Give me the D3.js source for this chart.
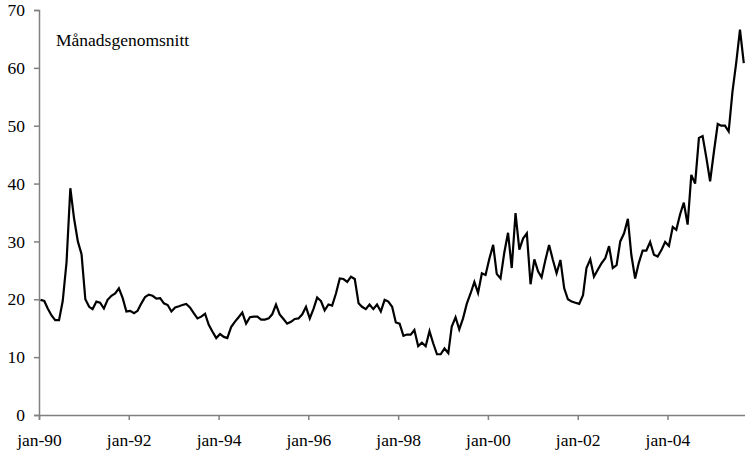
<!DOCTYPE html>
<html>
<head>
<meta charset="utf-8">
<script src="https://cdn.jsdelivr.net/npm/d3@7"></script>
<style>
  body { margin: 0; background: #fff; }
</style>
</head>
<body>
<svg id="chart" width="745" height="454"></svg>
<script>
// monthly averages, jan-90 .. sep-05
const startYear = 1990;
const prices = [
    19.9, 19.7, 18.4, 17.2, 16.4, 16.4, 19.7, 26.4, 39.2, 34.0, 30.0, 27.8,
    20.0, 18.7, 18.3, 19.6, 19.4, 18.4, 19.9, 20.6, 21.0, 21.9, 20.2, 17.9,
    18.0, 17.6, 18.0, 19.3, 20.4, 20.8, 20.6, 20.1, 20.2, 19.3, 19.0, 17.9,
    18.6, 18.8, 19.0, 19.2, 18.6, 17.6, 16.7, 17.0, 17.5, 15.6, 14.4, 13.3,
    14.0, 13.5, 13.3, 15.2, 16.1, 16.9, 17.7, 15.8, 16.9, 17.0, 17.0, 16.5,
    16.5, 16.7, 17.4, 19.1, 17.4, 16.6, 15.8, 16.1, 16.6, 16.7, 17.4, 18.7,
    16.7, 18.4, 20.3, 19.7, 18.1, 19.1, 18.9, 21.0, 23.6, 23.5, 23.0, 23.9,
    23.5, 19.3, 18.7, 18.3, 19.1, 18.3, 19.1, 17.9, 19.9, 19.6, 18.7, 16.0,
    15.8, 13.7, 13.9, 13.9, 14.7, 11.9, 12.5, 11.9, 14.5, 12.4, 10.5, 10.5,
    11.5, 10.7, 15.3, 16.9, 14.8, 16.7, 19.2, 21.0, 23.0, 21.1, 24.5, 24.2,
    27.0, 29.4, 24.4, 23.6, 28.0, 31.5, 25.4, 34.9, 28.6, 30.5, 31.4, 22.6,
    26.9, 24.8, 23.8, 26.8, 29.4, 26.8, 24.5, 26.8, 21.9, 20.0, 19.6, 19.4,
    19.2, 20.7, 25.4, 26.9, 23.9, 25.1, 26.2, 27.1, 29.2, 25.4, 25.9, 30.0,
    31.4, 33.9, 27.7, 23.6, 26.3, 28.4, 28.4, 29.9, 27.7, 27.4, 28.5, 29.9,
    29.2, 32.5, 32.0, 34.7, 36.7, 32.9, 41.5, 40.0, 47.9, 48.2, 44.4, 40.4,
    45.5, 50.3, 50.0, 50.0, 49.0, 55.9, 60.8, 66.6, 60.8
];
const yTicks = [0, 10, 20, 30, 40, 50, 60, 70];
const xTickYears = [1990, 1992, 1994, 1996, 1998, 2000, 2002, 2004];
const xTickLabels = ["jan-90", "jan-92", "jan-94", "jan-96", "jan-98", "jan-00", "jan-02", "jan-04"];
const chartLabel = "Månadsgenomsnitt";

const plotLeft = 39;
const plotRight = 746;
const plotTop = 10;
const plotBottom = 415;
const fontStack = '"Liberation Serif", "Times New Roman", serif';
const fontSize = "17.5px";

const svg = d3.select("#chart");

// points sit a little into their month
const data = prices.map((v,i) => ({date: new Date(startYear, i, 13), value: v}));

const x = d3.scaleTime()
    .domain([new Date(startYear,0,1), new Date(2005,9,1)])
    .range([plotLeft, plotRight]);

const y = d3.scaleLinear()
    .domain([0, 70])
    .range([plotBottom, plotTop]);

const axisColour = "#808080";

// y axis
const yAxis = svg.append("g")
    .attr("transform",`translate(${plotLeft},0)`)
    .call(d3.axisLeft(y).tickValues(yTicks).tickSize(5).tickPadding(9));

// x axis
const xAxis = svg.append("g")
    .attr("transform",`translate(0,${plotBottom})`)
    .call(
        d3.axisBottom(x)
            .tickValues(xTickYears.map(yr => new Date(yr,0,1)))
            .tickFormat((d,i) => xTickLabels[i])
            .tickSize(5)
            .tickPadding(14)
    );

[yAxis, xAxis].forEach(ax =>
{
    ax.select(".domain").attr("stroke",axisColour).attr("stroke-width",1.5);
    ax.selectAll(".tick line").attr("stroke",axisColour).attr("stroke-width",1.5);
    ax.selectAll(".tick text")
        .attr("fill","#000")
        .style("font-family",fontStack)
        .style("font-size",fontSize);
});

// the series
const line = d3.line()
    .x(d => x(d.date))
    .y(d => y(d.value));

svg.append("path")
    .datum(data)
    .attr("fill","none")
    .attr("stroke","#000")
    .attr("stroke-width",2.2)
    .attr("stroke-linejoin","miter")
    .attr("d",line);

svg.append("text")
    .text(chartLabel)
    .attr("x",56)
    .attr("y",46)
    .style("font-family",fontStack)
    .style("font-size",fontSize);
</script>
</body>
</html>
